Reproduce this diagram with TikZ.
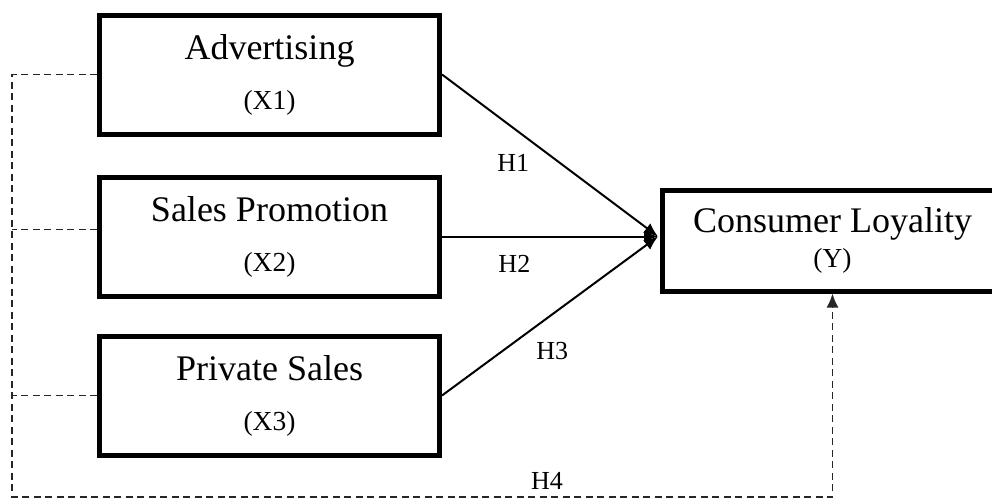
\documentclass[tikz,border=0pt]{standalone}
\usepackage{fontspec}
\setmainfont{Liberation Serif}
\usepackage{tikz}
\usetikzlibrary{positioning, arrows.meta}

\tikzset{
    varbox/.style={draw, line width=5pt, minimum width=340pt, minimum height=119pt,
        align=center, font=\fontsize{36}{40}\selectfont},
    hyplabel/.style={font=\fontsize{26}{28}\selectfont, inner sep=1pt},
    dashline/.style={line width=1.8pt, black!85, dash pattern=on 7pt off 4.5pt}
}
\newcommand{\varsub}[1]{{\fontsize{27.5}{30}\selectfont #1}}

\begin{document}
\begin{tikzpicture}[x=1pt, y=-1pt, >={Latex[length=14pt, width=12pt]}]
    \useasboundingbox (0,0) rectangle (992,501);
    \node[varbox] (adv) at (269.5,74.5) {Advertising\\[10pt]\varsub{(X1)}};
    \node[varbox, below=38pt of adv] (promo) {Sales Promotion\\[10pt]\varsub{(X2)}};
    \node[varbox, below=35pt of promo] (priv) {Private Sales\\[10pt]\varsub{(X3)}};
    \node[varbox, minimum height=101pt, right=218pt of promo, yshift=-4pt] (loyal) {Consumer Loyality\\[-5pt]\varsub{(Y)}};
    \coordinate (hub) at ([xshift=-2pt, yshift=4pt]loyal.west);
    \coordinate (rail) at (12,497);
    % direct effects
    \draw[->, line width=2pt] (adv.east) -- node[pos=0.33, below=24pt, hyplabel] (hone) {H1} (hub);
    \draw[->, line width=2pt] (promo.east) -- node[pos=0.335, below=17pt, hyplabel] (htwo) {H2} (hub);
    \draw[->, line width=2pt] (priv.east) -- node[pos=0.51, below=26pt, hyplabel] (hthree) {H3} (hub);
    % simultaneous effect
    \draw[dashline, ->] (adv.west) -| (rail) -| node[pos=0.326, above=6pt, hyplabel, black] (hfour) {H4} (loyal.south);
    \draw[dashline] ([yshift=7pt]promo.west) -- ([yshift=7pt]promo.west -| rail);
    \draw[dashline] (priv.west) -- (priv.west -| rail);
\end{tikzpicture}
\end{document}
